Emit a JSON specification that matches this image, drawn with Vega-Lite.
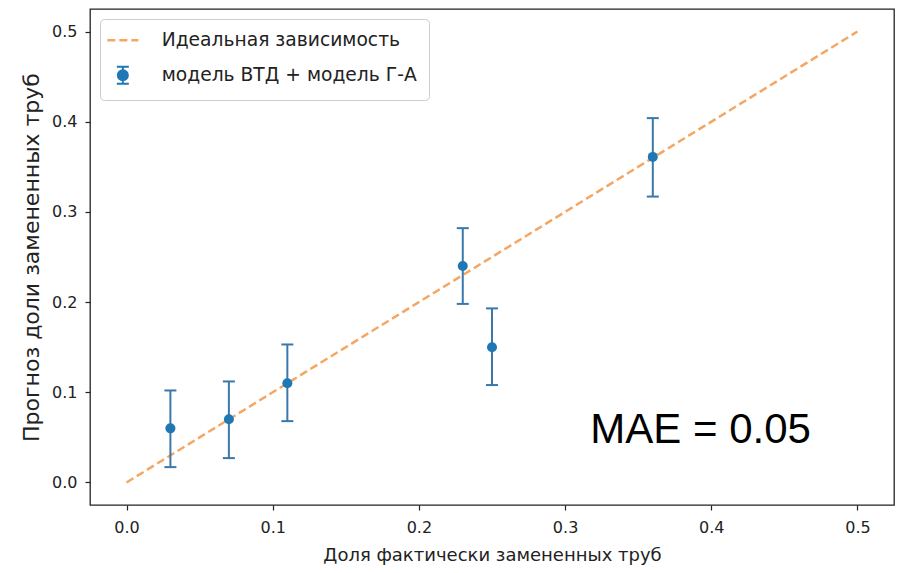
{
  "$schema": "https://vega.github.io/schema/vega-lite/v6.json",
  "autosize": {"type": "none"},
  "width": 804,
  "height": 496,
  "padding": {"left": 90, "top": 9, "right": 3, "bottom": 68},
  "background": "white",
  "config": {
    "font": "DejaVu Sans",
    "view": {"stroke": "#222222", "strokeWidth": 1.3},
    "axis": {
      "domain": false,
      "grid": false,
      "ticks": true,
      "tickColor": "#222222",
      "tickSize": 5,
      "tickWidth": 1.2,
      "labelFont": "DejaVu Sans",
      "labelFontSize": 16,
      "labelColor": "#222222",
      "titleFont": "DejaVu Sans",
      "titleFontWeight": "normal",
      "titleColor": "#222222"
    },
    "legend": {
      "orient": "top-left",
      "offset": 10,
      "padding": 12,
      "strokeColor": "#cccccc",
      "fillColor": "white",
      "cornerRadius": 4,
      "labelFont": "DejaVu Sans",
      "labelFontSize": 18.7,
      "labelColor": "#222222",
      "labelLimit": 500,
      "labelOffset": 31,
      "rowPadding": 11,
      "symbolSize": 1600,
      "symbolOpacity": 1
    }
  },
  "datasets": {
    "ideal": [{"x": 0.0, "y": 0.0}, {"x": 0.5, "y": 0.5}],
    "model": [
      {"x": 0.03, "y": 0.06, "lo": 0.017, "hi": 0.102},
      {"x": 0.07, "y": 0.07, "lo": 0.027, "hi": 0.112},
      {"x": 0.11, "y": 0.11, "lo": 0.068, "hi": 0.153},
      {"x": 0.23, "y": 0.24, "lo": 0.198, "hi": 0.282},
      {"x": 0.25, "y": 0.15, "lo": 0.108, "hi": 0.193},
      {"x": 0.36, "y": 0.361, "lo": 0.317, "hi": 0.404}
    ]
  },
  "encoding": {
    "x": {
      "type": "quantitative",
      "scale": {"domain": [-0.025, 0.525], "nice": false, "zero": false},
      "axis": {"values": [0, 0.1, 0.2, 0.3, 0.4, 0.5], "format": ".1f", "title": "Доля фактически замененных труб", "titleFontSize": 18, "labelPadding": 9, "titlePadding": 11}
    },
    "y": {
      "type": "quantitative",
      "scale": {"domain": [-0.025, 0.525], "nice": false, "zero": false},
      "axis": {"values": [0, 0.1, 0.2, 0.3, 0.4, 0.5], "format": ".1f", "title": "Прогноз доли замененных труб", "titleFontSize": 22, "labelPadding": 8, "titlePadding": 8}
    }
  },
  "layer": [
    {
      "data": {"name": "ideal"},
      "mark": {"type": "line", "strokeDash": [8, 4], "strokeWidth": 2.5, "opacity": 0.75},
      "encoding": {
        "x": {"field": "x", "type": "quantitative"},
        "y": {"field": "y", "type": "quantitative"},
        "color": {
          "datum": "Идеальная зависимость",
          "type": "nominal",
          "scale": {"domain": ["Идеальная зависимость", "модель ВТД + модель Г-А"], "range": ["#f08a30", "#1f77b4"]},
          "legend": {
            "title": null,
            "symbolSize": 1600,
            "symbolOpacity": {"expr": "datum.value === 'Идеальная зависимость' ? 0.75 : 1"},
            "symbolType": {"expr": "datum.value === 'Идеальная зависимость' ? 'M-0.7,0H0.85' : 'M0.075,-0.425V0.425M-0.225,-0.425H0.375M-0.225,0.425H0.375M-0.175,0A0.25,0.25,0,1,0,0.325,0A0.25,0.25,0,1,0,-0.175,0Z'"},
            "symbolDash": {"expr": "datum.value === 'Идеальная зависимость' ? [8, 4] : []"},
            "symbolStrokeWidth": {"expr": "datum.value === 'Идеальная зависимость' ? 2.5 : 2"}
          }
        }
      }
    },
    {
      "data": {"name": "model"},
      "mark": {"type": "rule", "color": "#3a78ab", "strokeWidth": 2},
      "encoding": {
        "x": {"field": "x", "type": "quantitative"},
        "y": {"field": "lo", "type": "quantitative"},
        "y2": {"field": "hi"}
      }
    },
    {
      "data": {"name": "model"},
      "mark": {"type": "tick", "orient": "horizontal", "color": "#3a78ab", "size": 12, "thickness": 2, "opacity": 1},
      "encoding": {
        "x": {"field": "x", "type": "quantitative"},
        "y": {"field": "lo", "type": "quantitative"}
      }
    },
    {
      "data": {"name": "model"},
      "mark": {"type": "tick", "orient": "horizontal", "color": "#3a78ab", "size": 12, "thickness": 2, "opacity": 1},
      "encoding": {
        "x": {"field": "x", "type": "quantitative"},
        "y": {"field": "hi", "type": "quantitative"}
      }
    },
    {
      "data": {"name": "model"},
      "mark": {"type": "point", "filled": true, "size": 100, "opacity": 1},
      "encoding": {
        "x": {"field": "x", "type": "quantitative"},
        "y": {"field": "y", "type": "quantitative"},
        "color": {
          "datum": "модель ВТД + модель Г-А",
          "type": "nominal",
          "legend": {
            "title": null,
            "symbolSize": 1600,
            "symbolOpacity": {"expr": "datum.value === 'Идеальная зависимость' ? 0.75 : 1"},
            "symbolType": {"expr": "datum.value === 'Идеальная зависимость' ? 'M-0.7,0H0.85' : 'M0.075,-0.425V0.425M-0.225,-0.425H0.375M-0.225,0.425H0.375M-0.175,0A0.25,0.25,0,1,0,0.325,0A0.25,0.25,0,1,0,-0.175,0Z'"},
            "symbolDash": {"expr": "datum.value === 'Идеальная зависимость' ? [8, 4] : []"},
            "symbolStrokeWidth": {"expr": "datum.value === 'Идеальная зависимость' ? 2.5 : 2"}
          }
        }
      }
    },
    {
      "data": {"values": [{}]},
      "mark": {"type": "text", "font": "Liberation Sans", "fontSize": 42, "align": "center", "baseline": "alphabetic", "color": "#000000"},
      "encoding": {
        "x": {"datum": 0.3927, "type": "quantitative"},
        "y": {"datum": 0.0438, "type": "quantitative"},
        "text": {"value": "MAE = 0.05"}
      }
    }
  ]
}
